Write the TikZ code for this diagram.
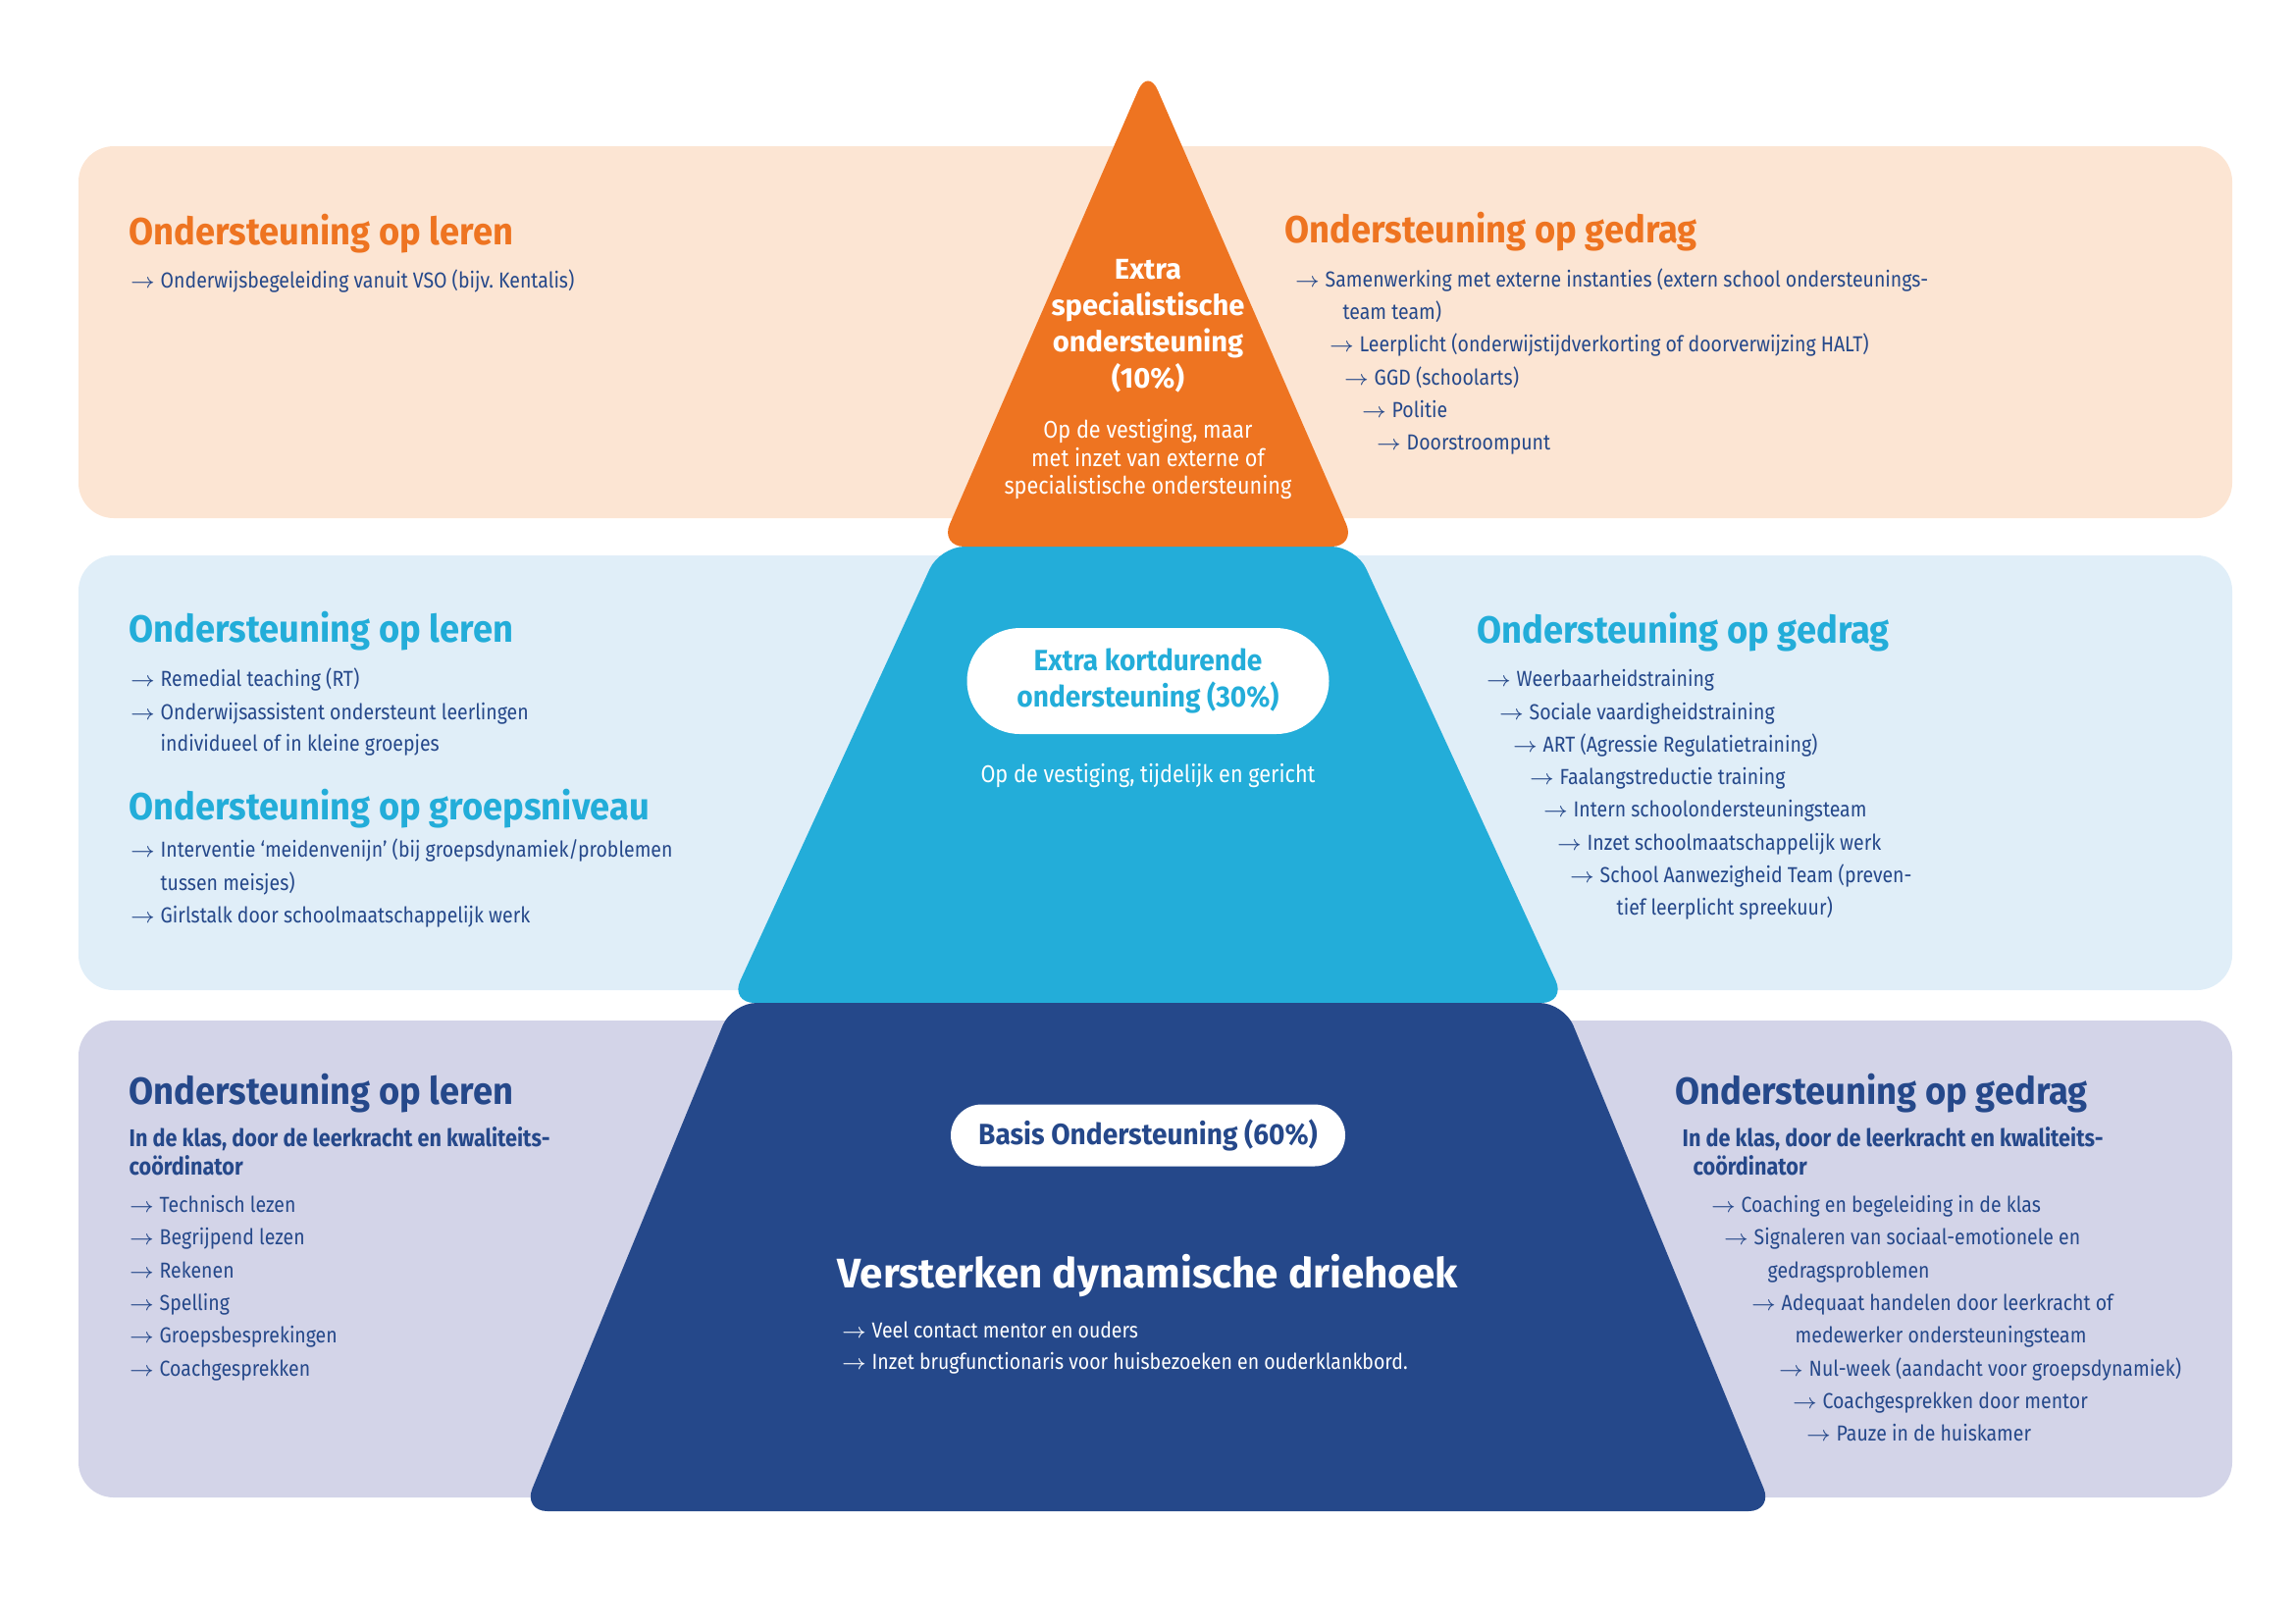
\documentclass[tikz,border=0pt]{standalone}
\usepackage{fontspec}
\setmainfont{Fira Sans}[FakeStretch=0.88]
\newfontfamily\kopfont{Fira Sans}[FakeStretch=0.94]
\newfontfamily\breedfont{Fira Sans}
\definecolor{oranje}{HTML}{EE7421}
\definecolor{oranjelicht}{HTML}{FCE5D3}
\definecolor{blauw}{HTML}{23ADD9}
\definecolor{blauwlicht}{HTML}{E0EEF8}
\definecolor{donkerblauw}{HTML}{25488A}
\definecolor{lila}{HTML}{D3D4E8}
\newcommand{\pijl}{\makebox[3.1mm][l]{$\rightarrow$}}
\tikzset{
  paneel/.style={rounded corners=3.6mm},
  kop/.style={anchor=base west, inner sep=0pt, font=\kopfont\bfseries\fontsize{11}{13}\selectfont},
  subkop/.style={anchor=base west, inner sep=0pt, text=donkerblauw, font=\bfseries\fontsize{7}{8.4}\selectfont},
  regel/.style={anchor=base west, inner sep=0pt, text=donkerblauw, font=\fontsize{6.3}{7.5}\selectfont},
  pil/.style={fill=white, inner sep=0pt, align=center}
}
\begin{document}
\begin{tikzpicture}[x=0.1mm,y=-0.1mm]
\useasboundingbox (0,0) rectangle (2339,1654);
\fill[oranjelicht, paneel] (80,149) rectangle (2275,528);
\fill[blauwlicht, paneel] (80,566) rectangle (2275,1009);
\fill[lila, paneel] (80,1040) rectangle (2275,1526);
\fill[blauw, rounded corners=2.5mm] (744,1022) -- (958,557) -- (1382,557) -- (1596,1022) -- cycle;
\fill[oranje, rounded corners=2.5mm] (958,557) -- (1170,69) -- (1382,557) -- cycle;
\fill[donkerblauw, rounded corners=2.5mm] (533,1540) -- (746,1022) -- (1594,1022) -- (1807,1540) -- cycle;

\node[text=white, align=center, inner sep=0pt, font=\breedfont\bfseries\fontsize{8.3}{10.5}\selectfont] (specialist) at (1170,332) {Extra\\specialistische\\ondersteuning\\(10\%)};
\node[text=white, align=center, inner sep=0pt, font=\fontsize{7}{8.25}\selectfont] (specialistsub) at (1170,468) {Op de vestiging, maar\\met inzet van externe of\\specialistische ondersteuning};
\node[pil, minimum width=36.9mm, minimum height=10.8mm, rounded corners=5.4mm, text=blauw, font=\kopfont\bfseries\fontsize{8.5}{10.6}\selectfont] (kortdurend) at (1170,694) {Extra kortdurende\\ondersteuning (30\%)};
\node[anchor=base, inner sep=0pt, text=white, font=\fontsize{7}{8.5}\selectfont] (kortdurendsub) at (1170,797) {Op de vestiging, tijdelijk en gericht};
\node[pil, minimum width=40.2mm, minimum height=6.3mm, rounded corners=3.15mm, text=donkerblauw, font=\kopfont\bfseries\fontsize{8.5}{10}\selectfont] (basis) at (1170,1157) {Basis Ondersteuning (60\%)};
\node[anchor=base, inner sep=0pt, text=white, font=\breedfont\bfseries\fontsize{12}{14}\selectfont] (driehoek) at (1170,1312) {Versterken dynamische driehoek};
\node[regel, text=white] (driehoek1) at (857,1363) {\pijl Veel contact mentor en ouders};
\node[regel, text=white] (driehoek2) at (857,1395) {\pijl Inzet brugfunctionaris voor huisbezoeken en ouderklankbord.};

\node[kop, text=oranje] (lerenA) at (131,249) {Ondersteuning op leren};
\node[regel] (lerenA1) at (132,293) {\pijl Onderwijsbegeleiding vanuit VSO (bijv.\ Kentalis)};

\node[kop, text=oranje] (gedragA) at (1309,247) {Ondersteuning op gedrag};
\node[regel] (gedragA1) at (1319,292) {\pijl Samenwerking met externe instanties (extern school ondersteunings-};
\node[regel] (gedragA1b) at (1368,325) {team team)};
\node[regel] (gedragA2) at (1354,358) {\pijl Leerplicht (onderwijstijdverkorting of doorverwijzing HALT)};
\node[regel] (gedragA3) at (1369,392) {\pijl GGD (schoolarts)};
\node[regel] (gedragA4) at (1387,425) {\pijl Politie};
\node[regel] (gedragA5) at (1402,458) {\pijl Doorstroompunt};

\node[kop, text=blauw] (lerenB) at (131,654) {Ondersteuning op leren};
\node[regel] (lerenB1) at (132,699) {\pijl Remedial teaching (RT)};
\node[regel] (lerenB2) at (132,733) {\pijl Onderwijsassistent ondersteunt leerlingen};
\node[regel] (lerenB2b) at (163,765) {individueel of in kleine groepjes};
\node[kop, text=blauw] (groep) at (131,835) {Ondersteuning op groepsniveau};
\node[regel] (groep1) at (132,873) {\pijl Interventie ‘meidenvenijn’ (bij groepsdynamiek/problemen};
\node[regel] (groep1b) at (163,907) {tussen meisjes)};
\node[regel] (groep2) at (132,940) {\pijl Girlstalk door schoolmaatschappelijk werk};

\node[kop, text=blauw] (gedragB) at (1505,655) {Ondersteuning op gedrag};
\node[regel] (gedragB1) at (1514,699) {\pijl Weerbaarheidstraining};
\node[regel] (gedragB2) at (1527,733) {\pijl Sociale vaardigheidstraining};
\node[regel] (gedragB3) at (1541,766) {\pijl ART (Agressie Regulatietraining)};
\node[regel] (gedragB4) at (1558,799) {\pijl Faalangstreductie training};
\node[regel] (gedragB5) at (1572,832) {\pijl Intern schoolondersteuningsteam};
\node[regel] (gedragB6) at (1586,866) {\pijl Inzet schoolmaatschappelijk werk};
\node[regel] (gedragB7) at (1599,899) {\pijl School Aanwezigheid Team (preven-};
\node[regel] (gedragB7b) at (1647,932) {tief leerplicht spreekuur)};

\node[kop, text=donkerblauw] (lerenC) at (131,1125) {Ondersteuning op leren};
\node[subkop] (lerenCsub) at (131,1168) {In de klas, door de leerkracht en kwaliteits-};
\node[subkop] (lerenCsubb) at (131,1197) {coördinator};
\node[regel] (lerenC1) at (131,1235) {\pijl Technisch lezen};
\node[regel] (lerenC2) at (131,1268) {\pijl Begrijpend lezen};
\node[regel] (lerenC3) at (131,1302) {\pijl Rekenen};
\node[regel] (lerenC4) at (131,1335) {\pijl Spelling};
\node[regel] (lerenC5) at (131,1368) {\pijl Groepsbesprekingen};
\node[regel] (lerenC6) at (131,1402) {\pijl Coachgesprekken};

\node[kop, text=donkerblauw] (gedragC) at (1707,1125) {Ondersteuning op gedrag};
\node[subkop] (gedragCsub) at (1714,1168) {In de klas, door de leerkracht en kwaliteits-};
\node[subkop] (gedragCsubb) at (1725,1197) {coördinator};
\node[regel] (gedragC1) at (1743,1235) {\pijl Coaching en begeleiding in de klas};
\node[regel] (gedragC2) at (1756,1268) {\pijl Signaleren van sociaal-emotionele en};
\node[regel] (gedragC2b) at (1801,1302) {gedragsproblemen};
\node[regel] (gedragC3) at (1784,1335) {\pijl Adequaat handelen door leerkracht of};
\node[regel] (gedragC3b) at (1829,1368) {medewerker ondersteuningsteam};
\node[regel] (gedragC4) at (1812,1402) {\pijl Nul-week (aandacht voor groepsdynamiek)};
\node[regel] (gedragC5) at (1826,1435) {\pijl Coachgesprekken door mentor};
\node[regel] (gedragC6) at (1840,1468) {\pijl Pauze in de huiskamer};
\end{tikzpicture}
\end{document}
